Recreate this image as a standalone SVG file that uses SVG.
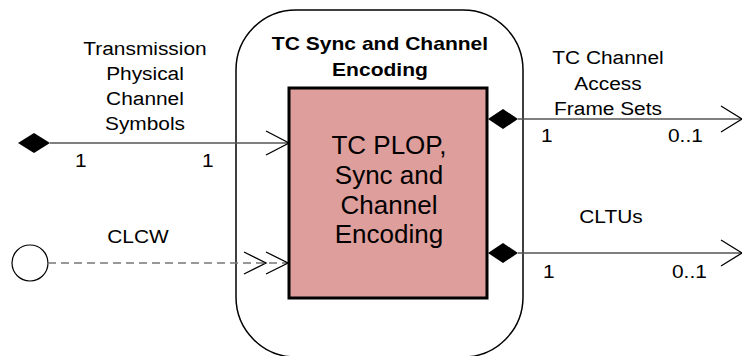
<svg xmlns="http://www.w3.org/2000/svg" width="742" height="356" viewBox="0 0 742 356">
<style>
text{font-family:"Liberation Sans",Arial,sans-serif;fill:#000}
.lbl{font-size:18px;text-anchor:middle}
.mult{font-size:18px}
.title{font-size:18px;font-weight:bold;text-anchor:middle}
.inner{font-size:26px;text-anchor:middle}
.line{stroke:#555;stroke-width:1.5;fill:none}
.dash{stroke:#777;stroke-width:1.5;fill:none;stroke-dasharray:8 5}
.head{stroke:#000;stroke-width:1.3;fill:none}
.dia{fill:#000}
</style>
<rect width="742" height="356" fill="#fff"/>
<g id="outer">
<rect x="236" y="10" width="287" height="347" rx="60" ry="60" fill="#fff" stroke="#000" stroke-width="1.5"/>
<text class="title" transform="translate(380,50) scale(1.17,1)">TC Sync and Channel</text>
<text class="title" transform="translate(380,76) scale(1.17,1)">Encoding</text>
</g>
<g id="connectors">
<g id="c-tpcs">
<polygon class="dia" points="18,143 34,133 50,143 34,153"/>
<line class="line" x1="50" y1="143" x2="289" y2="143"/>
<polyline class="head" points="266,131 289,143 266,155"/>
<text class="lbl" transform="translate(145,55) scale(1.16,1)">Transmission</text>
<text class="lbl" transform="translate(145,80) scale(1.16,1)">Physical</text>
<text class="lbl" transform="translate(145,105) scale(1.16,1)">Channel</text>
<text class="lbl" transform="translate(145,130) scale(1.16,1)">Symbols</text>
<text class="mult" transform="translate(75,167) scale(1.16,1)">1</text>
<text class="mult" transform="translate(202,167) scale(1.16,1)">1</text>
</g>
<g id="c-clcw">
<circle cx="30" cy="263" r="18" fill="#fff" stroke="#000" stroke-width="1.2"/>
<line class="dash" x1="48" y1="263" x2="288" y2="263"/>
<polyline class="head" points="244,252 266,263 244,274"/>
<polyline class="head" points="266,252 288,263 266,274"/>
<text class="lbl" transform="translate(138,243) scale(1.16,1)">CLCW</text>
</g>
<g id="c-frames">
<polygon class="dia" points="488,119 503,109 518,119 503,129"/>
<line class="line" x1="518" y1="119" x2="742" y2="119"/>
<polyline class="head" points="721,106 742,119 721,132"/>
<text class="lbl" transform="translate(608,64) scale(1.16,1)">TC Channel</text>
<text class="lbl" transform="translate(608,90) scale(1.16,1)">Access</text>
<text class="lbl" transform="translate(608,115) scale(1.16,1)">Frame Sets</text>
<text class="mult" transform="translate(541,142) scale(1.16,1)">1</text>
<text class="mult" transform="translate(668,142) scale(1.16,1)">0..1</text>
</g>
<g id="c-cltus">
<polygon class="dia" points="488,253 503,243 518,253 503,263"/>
<line class="line" x1="518" y1="253" x2="742" y2="253"/>
<polyline class="head" points="721,240 742,253 721,266"/>
<text class="lbl" transform="translate(611,223) scale(1.16,1)">CLTUs</text>
<text class="mult" transform="translate(543,278) scale(1.16,1)">1</text>
<text class="mult" transform="translate(672,278) scale(1.16,1)">0..1</text>
</g>
</g>
<g id="plop">
<rect x="289" y="88" width="198" height="210" fill="#DE9E9B" stroke="#000" stroke-width="3"/>
<text class="inner" x="389" y="154">TC PLOP,</text>
<text class="inner" x="389" y="184">Sync and</text>
<text class="inner" x="389" y="214">Channel</text>
<text class="inner" x="389" y="243">Encoding</text>
</g>
</svg>
